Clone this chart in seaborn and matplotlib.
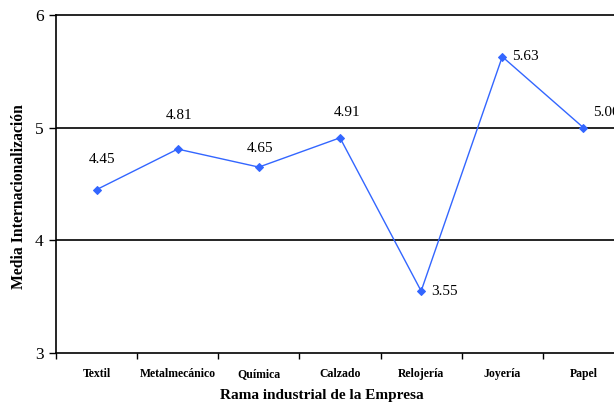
import numpy as np
import pandas as pd
import matplotlib
matplotlib.use("Agg")
import matplotlib.pyplot as plt
import seaborn as sns

# Mean internationalisation score by industrial branch
ramas = ["Textil", "Metalmecánico", "Química", "Calzado", "Relojería", "Joyería", "Papel"]
medias = [4.45, 4.81, 4.65, 4.91, 3.55, 5.63, 5.00]
# label offsets in pixels (dx, dy) relative to each point
offsets = [(5, 30), (1, 34), (1, 19), (7, 25), (23, 0), (23, 0), (23, 15)]

yticks = [3, 4, 5, 6]

sns.set_theme(style="white")
plt.rcParams["font.family"] = ["Liberation Serif", "DejaVu Serif"]
plt.rcParams["text.color"] = "black"
plt.rcParams["xtick.color"] = "black"
plt.rcParams["ytick.color"] = "black"
plt.rcParams["axes.labelcolor"] = "black"

fig = plt.figure(figsize=(6.14, 4.05), dpi=100)
ax = fig.add_axes([56 / 614, 52 / 405, (624 - 56) / 614, 338 / 405])

df = pd.DataFrame({"pos": np.arange(len(ramas)), "media": medias})
sns.lineplot(data=df, x="pos", y="media", ax=ax, color="#3366FF", linewidth=1.0,
             marker="D", markersize=4, markeredgecolor="#3366FF")

ax.set_xlim(-0.5, len(ramas) - 0.5)
ax.set_ylim(3, 6)

# horizontal reference lines
for yv in [4, 5]:
    ax.axhline(yv, color="black", linewidth=1.2, zorder=0)

ax.set_yticks(yticks)
ax.set_yticklabels([str(t) for t in yticks], fontsize=12.5)
ax.tick_params(axis="y", direction="out", length=5, width=1.0, color="black",
               left=True, pad=4)

ax.set_xticks(df["pos"])
ax.set_xticklabels(ramas, fontsize=8.5, fontweight="bold")
ax.set_xticks(np.arange(len(ramas) + 1) - 0.5, minor=True)
ax.tick_params(axis="x", which="major", length=0, pad=11)
ax.tick_params(axis="x", which="minor", direction="out", length=4, width=1.0,
               color="black", bottom=True)

for side in ["left", "bottom", "top"]:
    ax.spines[side].set_color("black")
    ax.spines[side].set_linewidth(1.2)
ax.spines["right"].set_visible(False)

for x, y, (dx, dy) in zip(df["pos"], medias, offsets):
    ax.annotate(f"{y:.2f}", (x, y), xytext=(dx, dy), textcoords="offset pixels",
                ha="center", va="center", fontsize=11, annotation_clip=False)

ax.set_xlabel("")
ax.set_ylabel("")
fig.text(322 / 614, 1 - 396 / 405, "Rama industrial de la Empresa", ha="center",
         va="center", fontsize=11, fontweight="bold")
fig.text(19 / 614, 1 - 197 / 405, "Media Internacionalización", ha="center",
         va="center", rotation=90, fontsize=11.3, fontweight="bold")

fig.savefig("out.png", dpi=100)
